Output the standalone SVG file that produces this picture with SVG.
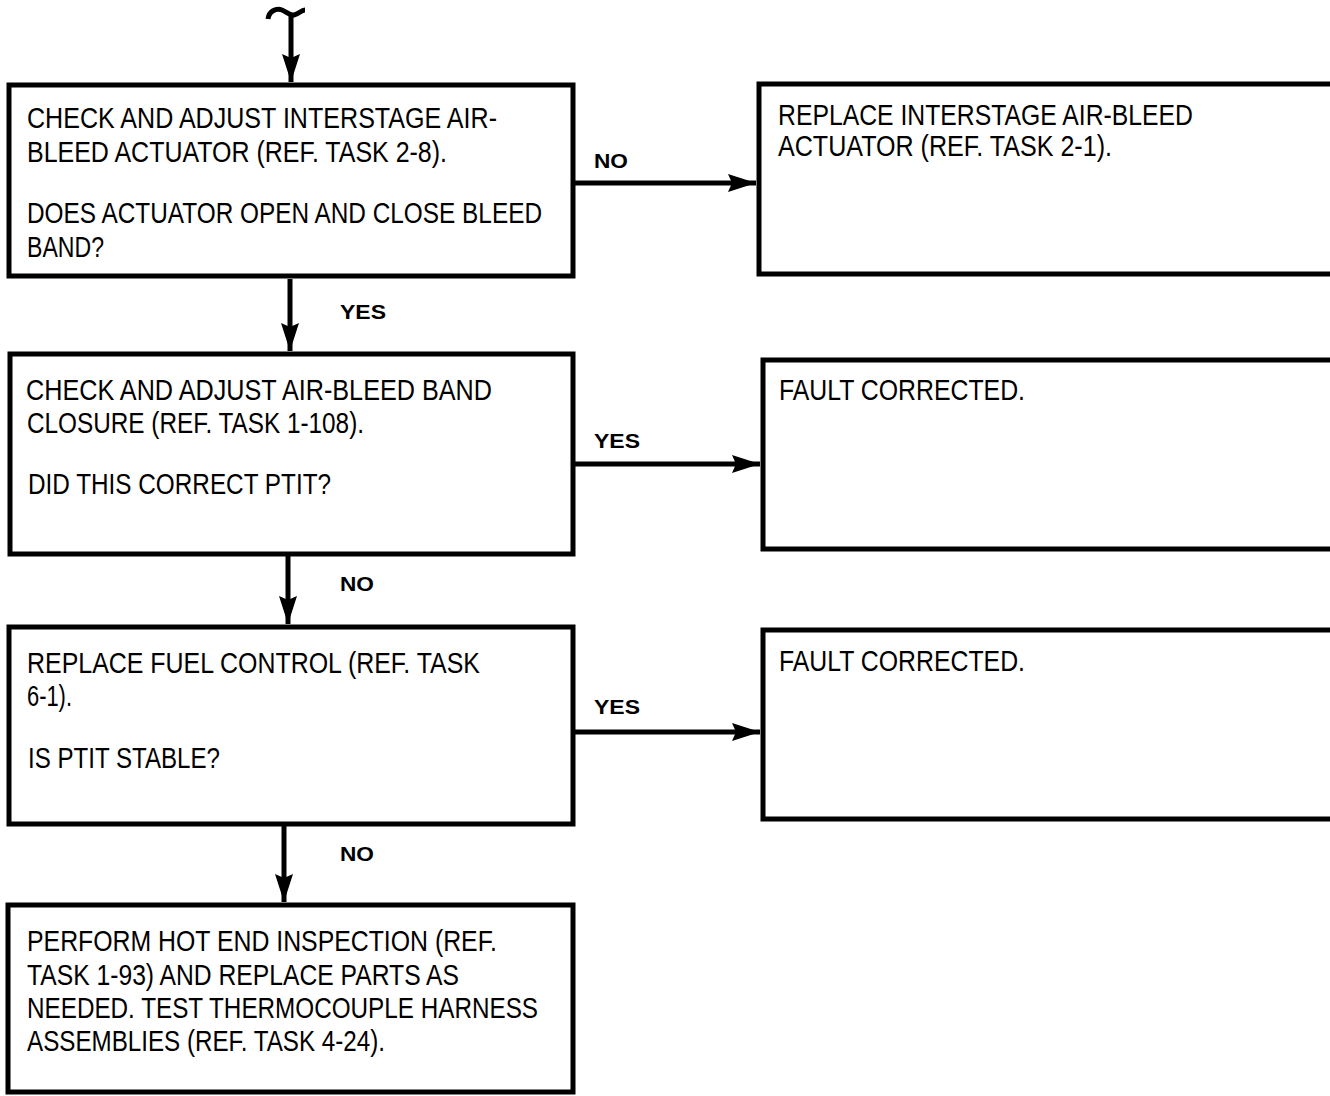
<svg xmlns="http://www.w3.org/2000/svg" width="1330" height="1096" viewBox="0 0 1330 1096">
<defs>
<style>
.box{fill:#fff;stroke:#000;stroke-width:5}
.t{font-family:"Liberation Sans",Arial,sans-serif;font-size:29px;fill:#000}
.lbl{font-family:"Liberation Sans",Arial,sans-serif;font-size:21px;font-weight:bold;fill:#000}
.con{fill:none;stroke:#000;stroke-width:5}
</style>
<marker id="ah" markerUnits="userSpaceOnUse" markerWidth="30" markerHeight="20" refX="28" refY="10" orient="auto">
<path d="M0,1 L28,10 L0,19 L4,10 Z" fill="#000"/>
</marker>
</defs>
<rect width="1330" height="1096" fill="#fff"/>
<g id="connectors">
<path d="M268,19 C269,11 276,8 282,10 C287,12 290,16 294,15 C299,14 301,10 305,10" fill="none" stroke="#000" stroke-width="5"/>
<line class="con" x1="291" y1="13" x2="291" y2="82" marker-end="url(#ah)"/>
<line class="con" x1="290" y1="279" x2="290" y2="351" marker-end="url(#ah)"/>
<line class="con" x1="288" y1="556" x2="288" y2="624" marker-end="url(#ah)"/>
<line class="con" x1="284" y1="826" x2="284" y2="902" marker-end="url(#ah)"/>
<line class="con" x1="575" y1="183" x2="756" y2="183" marker-end="url(#ah)"/>
<line class="con" x1="575" y1="464" x2="760" y2="464" marker-end="url(#ah)"/>
<line class="con" x1="575" y1="732" x2="760" y2="732" marker-end="url(#ah)"/>
<text class="lbl" x="594" y="168" textLength="34" lengthAdjust="spacingAndGlyphs">NO</text>
<text class="lbl" x="340" y="319" textLength="46" lengthAdjust="spacingAndGlyphs">YES</text>
<text class="lbl" x="594" y="448" textLength="46" lengthAdjust="spacingAndGlyphs">YES</text>
<text class="lbl" x="340" y="591" textLength="34" lengthAdjust="spacingAndGlyphs">NO</text>
<text class="lbl" x="594" y="714" textLength="46" lengthAdjust="spacingAndGlyphs">YES</text>
<text class="lbl" x="340" y="861" textLength="34" lengthAdjust="spacingAndGlyphs">NO</text>
</g>
<g id="n1">
<rect class="box" x="9" y="85" width="564" height="191"/>
<text class="t" x="27" y="128" textLength="470" lengthAdjust="spacingAndGlyphs">CHECK AND ADJUST INTERSTAGE AIR-</text>
<text class="t" x="27" y="162" textLength="420" lengthAdjust="spacingAndGlyphs">BLEED ACTUATOR (REF. TASK 2-8).</text>
<text class="t" x="27" y="223" textLength="515" lengthAdjust="spacingAndGlyphs">DOES ACTUATOR OPEN AND CLOSE BLEED</text>
<text class="t" x="27" y="257" textLength="77" lengthAdjust="spacingAndGlyphs">BAND?</text>
</g>
<g id="r1">
<rect class="box" x="759" y="84" width="580" height="190"/>
<text class="t" x="778" y="125" textLength="415" lengthAdjust="spacingAndGlyphs">REPLACE INTERSTAGE AIR-BLEED</text>
<text class="t" x="778" y="156" textLength="334" lengthAdjust="spacingAndGlyphs">ACTUATOR (REF. TASK 2-1).</text>
</g>
<g id="n2">
<rect class="box" x="10" y="354" width="563" height="200"/>
<text class="t" x="26" y="400" textLength="466" lengthAdjust="spacingAndGlyphs">CHECK AND ADJUST AIR-BLEED BAND</text>
<text class="t" x="27" y="433" textLength="337" lengthAdjust="spacingAndGlyphs">CLOSURE (REF. TASK 1-108).</text>
<text class="t" x="28" y="494" textLength="303" lengthAdjust="spacingAndGlyphs">DID THIS CORRECT PTIT?</text>
</g>
<g id="r2">
<rect class="box" x="763" y="360" width="576" height="189"/>
<text class="t" x="779" y="400" textLength="246" lengthAdjust="spacingAndGlyphs">FAULT CORRECTED.</text>
</g>
<g id="n3">
<rect class="box" x="9" y="627" width="564" height="197"/>
<text class="t" x="27" y="673" textLength="453" lengthAdjust="spacingAndGlyphs">REPLACE FUEL CONTROL (REF. TASK</text>
<text class="t" x="27" y="706" textLength="45" lengthAdjust="spacingAndGlyphs">6-1).</text>
<text class="t" x="28" y="768" textLength="192" lengthAdjust="spacingAndGlyphs">IS PTIT STABLE?</text>
</g>
<g id="r3">
<rect class="box" x="763" y="630" width="576" height="189"/>
<text class="t" x="779" y="671" textLength="246" lengthAdjust="spacingAndGlyphs">FAULT CORRECTED.</text>
</g>
<g id="n4">
<rect class="box" x="8" y="905" width="565" height="187"/>
<text class="t" x="27" y="951" textLength="470" lengthAdjust="spacingAndGlyphs">PERFORM HOT END INSPECTION (REF.</text>
<text class="t" x="27" y="985" textLength="432" lengthAdjust="spacingAndGlyphs">TASK 1-93) AND REPLACE PARTS AS</text>
<text class="t" x="27" y="1018" textLength="511" lengthAdjust="spacingAndGlyphs">NEEDED. TEST THERMOCOUPLE HARNESS</text>
<text class="t" x="27" y="1051" textLength="358" lengthAdjust="spacingAndGlyphs">ASSEMBLIES (REF. TASK 4-24).</text>
</g>
</svg>
